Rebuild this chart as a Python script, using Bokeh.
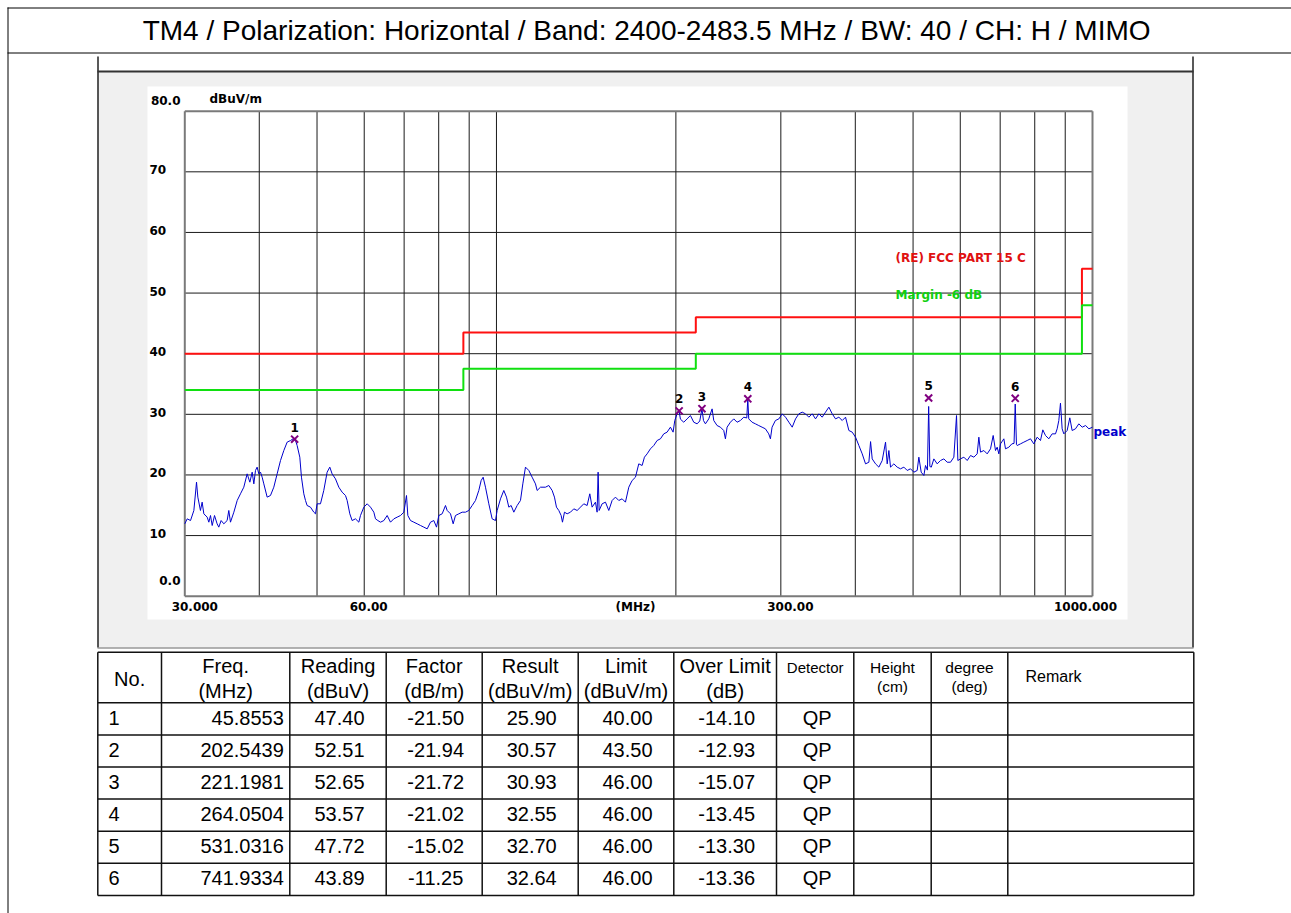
import math
from bokeh.plotting import figure
from bokeh.models import Range1d, LinearScale, LogScale
from bokeh.core.properties import value
from bokeh.embed import file_html
from bokeh.resources import INLINE

# ---------------- data ----------------
TITLE = "TM4 / Polarization: Horizontal / Band: 2400-2483.5 MHz  / BW: 40 / CH: H / MIMO"

trace_freq = [
    30.00, 30.28, 30.67, 31.07, 31.39, 31.55, 31.87, 32.08, 32.29, 32.71, 32.92, 33.13, 33.35, 33.65,
    33.99, 34.21, 34.52, 34.88, 35.33, 35.56, 35.79, 36.26, 36.73, 37.20, 37.68, 38.17, 38.57, 38.92,
    39.17, 39.42, 39.67, 39.93, 40.19, 40.45, 40.71, 41.24, 41.77, 42.31, 42.86, 43.42, 43.98, 44.55,
    45.13, 45.59, 46.01, 46.30, 46.78, 47.08, 47.51, 47.82, 48.12, 48.75, 49.38, 49.70, 50.02, 50.67,
    51.32, 51.99, 52.53, 53.00, 53.69, 54.39, 55.09, 55.81, 56.17, 56.75, 57.26, 58.00, 58.76, 59.14,
    59.91, 60.69, 61.47, 62.27, 62.67, 63.24, 63.90, 64.73, 65.56, 66.41, 67.27, 68.14, 69.03, 69.92,
    70.64, 71.01, 71.74, 72.67, 73.62, 74.57, 75.54, 76.52, 77.51, 78.51, 79.33, 80.04, 81.08, 82.13,
    82.66, 83.73, 84.60, 85.36, 86.47, 87.59, 88.72, 89.87, 91.04, 92.22, 93.41, 94.26, 94.99, 95.85,
    97.09, 98.35, 99.62, 100.27, 101.57, 102.88, 103.95, 104.89, 105.84, 106.94, 108.32, 109.72,
    110.72, 111.86, 113.31, 114.78, 116.27, 117.02, 118.54,
    120.85, 122.41, 124.00, 125.12, 126.09, 127.23, 128.39, 129.05, 130.05, 131.39, 133.10, 134.82,
    136.57, 138.34, 140.13, 141.95, 143.42, 144.71, 146.59, 147.53, 148.10, 148.68, 150.41, 152.36,
    154.33, 156.33, 158.36, 160.41, 162.49, 164.59, 166.73, 168.89, 171.08, 173.29, 175.54, 177.13,
    178.96, 181.28, 183.63, 186.01, 188.42, 190.86, 193.33, 195.83, 197.86, 199.14, 200.94, 202.54,
    203.54, 206.18, 208.85, 211.56, 214.30, 217.08, 219.32, 221.20, 222.50, 224.18, 227.09, 230.03,
    231.51, 234.51, 237.55, 240.63, 242.18, 243.74, 246.90, 250.10, 253.34, 256.62, 259.95, 263.00,
    264.05, 265.01, 268.45, 271.93, 275.45, 279.02, 282.64, 286.30, 288.15, 290.01, 293.77, 297.73,
    301.59, 305.49, 309.45, 313.46, 317.53, 321.64, 325.81, 330.03, 334.31, 338.64, 343.03, 347.48,
    351.98, 356.55, 361.17, 365.85, 370.59, 375.39, 380.26, 385.19, 390.18, 395.23, 400.36, 405.54,
    410.80, 416.12, 421.52, 424.30, 426.98, 432.51, 438.12, 443.80, 449.55, 452.44, 455.36, 458.30,
    464.24, 470.26, 476.35, 482.52, 488.78, 495.11, 501.53, 508.03, 511.30, 515.93, 521.27, 524.63,
    528.50, 531.03, 533.50, 536.50, 541.78, 548.80, 555.91, 563.12, 570.42, 577.81,
    585.32, 591.39, 594.45, 600.61, 608.41, 616.29, 624.27, 632.35, 640.54, 644.66, 648.83, 657.23,
    665.75, 674.37, 681.35, 687.50, 691.94, 696.42, 700.92, 710.00, 714.60, 723.85, 732.29, 738.50,
    741.93, 745.50, 747.52, 757.20, 767.01, 776.95, 787.01, 797.21, 807.54, 818.00, 825.39, 833.93,
    844.73, 855.67, 866.76, 872.35, 877.99, 883.65, 889.36, 895.10, 906.70, 916.07, 924.37, 936.35,
    948.50, 961.10, 973.58, 986.20, 1000.00,
]
trace_level = [
    11.94, 12.76, 12.48, 14.14, 18.81, 16.34, 14.14, 15.51, 13.59, 13.04, 12.21, 13.31, 11.66, 13.31,
    11.94, 11.39, 12.48, 11.94, 12.48, 14.14, 12.21, 13.86, 15.79, 16.89, 17.98, 20.18, 18.81, 20.46,
    18.53, 20.74, 21.29, 20.18, 20.46, 19.63, 18.53, 16.34, 16.61, 17.98, 20.18, 22.38, 24.03, 25.41,
    25.68, 25.96, 25.68, 24.86, 22.93, 19.63, 16.89, 15.79, 14.96, 14.69, 13.86, 13.59, 15.24, 15.24,
    17.44, 20.46, 21.29, 20.18, 19.36, 17.98, 17.16, 16.61, 15.79, 13.59, 12.48, 12.76, 12.21, 13.31,
    14.69, 15.24, 14.69, 13.86, 12.76, 12.48, 12.21, 12.48, 13.31, 12.21, 12.76, 13.04, 13.31, 13.86,
    16.61, 13.31, 12.48, 12.21, 11.94, 11.66, 11.39, 11.11, 12.21, 12.48, 11.39, 13.31, 13.59, 14.96,
    14.14, 13.59, 11.94, 13.31, 13.59, 13.86, 13.86, 14.14, 14.96, 15.79, 17.44, 19.08, 19.63, 17.98,
    15.24, 12.76, 12.48, 14.14, 16.06, 17.44, 16.34, 14.69, 14.96, 13.86, 14.96, 15.79,
    18.53, 21.29, 20.74, 19.63, 18.53, 17.44, 17.98,
    17.98, 18.26, 17.44, 16.34, 14.69, 14.14, 13.31, 12.21, 13.86, 13.59, 13.86, 14.41,
    14.14, 14.69, 15.24, 14.96, 16.89, 14.69, 15.51, 13.86, 20.46, 14.14, 15.24, 15.51,
    14.14, 15.79, 16.34, 15.79, 16.06, 15.51, 17.98, 19.08, 19.63, 21.83, 21.56, 22.93,
    23.48, 24.31, 24.86, 25.68, 25.96, 26.78, 27.06, 27.88, 27.06, 28.98, 30.08, 30.50,
    29.20, 28.70, 29.25, 29.80, 28.70, 28.43, 28.90, 30.90, 28.98, 28.43, 29.25, 30.90,
    28.98, 28.15, 27.88, 27.33, 25.96, 27.88, 28.70, 29.25, 28.70, 28.98, 29.53, 29.40,
    32.50, 29.25, 28.70, 28.43, 28.15, 27.88, 27.61, 26.78, 25.96, 27.88, 28.98, 29.25,
    30.08, 29.53, 28.70, 27.88, 29.25, 30.08, 30.36, 30.08, 29.53, 30.08, 29.25, 30.08,
    29.53, 30.36, 31.18, 30.08, 29.25, 29.53, 28.98, 29.53, 27.33, 27.06, 26.23, 24.86,
    23.48, 21.83, 22.10, 25.50, 22.65, 21.83, 21.29, 22.38, 25.41, 21.83, 24.03, 21.29,
    21.83, 21.29, 21.01, 21.29, 20.74, 21.01, 20.46, 20.74, 22.93, 20.46, 19.91, 21.56,
    20.80, 31.30, 21.40, 21.29, 22.65, 21.83, 22.38, 22.65, 22.10, 22.10,
    22.93, 29.80, 22.38, 22.66, 22.93, 22.38, 23.21, 22.93, 23.48, 26.23, 23.76, 24.03,
    23.48, 24.31, 26.51, 24.03, 24.58, 23.48, 25.13, 25.96, 24.31, 24.58, 25.13, 25.20,
    31.70, 25.00, 24.86, 25.13, 25.41, 25.68, 25.96, 25.13, 26.23, 25.68, 27.44, 26.51,
    25.96, 26.78, 26.78, 27.61, 28.98, 31.84, 27.61, 26.78, 27.33, 29.42, 27.33, 27.61,
    28.43, 27.88, 28.15, 27.61, 27.88,
]

limit_freq = [30, 88, 88, 216, 216, 960, 960, 1000]
limit_level = [40, 40, 43.5, 43.5, 46, 46, 54, 54]
margin_level = [34, 34, 37.5, 37.5, 40, 40, 48, 48]
limit_name = "(RE) FCC PART 15  C"
margin_name = "Margin -6 dB"
trace_name = "peak"

x_grid_freq = [40, 50, 60, 70, 80, 90, 100, 200, 300, 400, 500, 600, 700, 800, 900]
y_grid_level = [10, 20, 30, 40, 50, 60, 70]
x_tick_freq = [30, 60, 300, 1000]
x_tick_text = ["30.000", "60.00", "300.00", "1000.000"]
x_unit = "(MHz)"
y_tick_level = [10, 20, 30, 40, 50, 60, 70]
y_tick_text = ["10", "20", "30", "40", "50", "60", "70"]
y_end_level = [0, 80]
y_end_text = ["0.0", "80.0"]
y_unit = "dBuV/m"

meas_no = [1, 2, 3, 4, 5, 6]
meas_freq = [45.8553, 202.5439, 221.1981, 264.0504, 531.0316, 741.9334]
meas_reading = [47.40, 52.51, 52.65, 53.57, 47.72, 43.89]
meas_factor = [-21.50, -21.94, -21.72, -21.02, -15.02, -11.25]
meas_result = [25.90, 30.57, 30.93, 32.55, 32.70, 32.64]
meas_limit = [40.00, 43.50, 46.00, 46.00, 46.00, 46.00]
meas_over = [-14.10, -12.93, -15.07, -13.45, -13.30, -13.36]
meas_detector = ["QP", "QP", "QP", "QP", "QP", "QP"]

head_line1 = ["Freq.", "Reading", "Factor", "Result", "Limit", "Over Limit"]
head_line2 = ["(MHz)", "(dBuV)", "(dB/m)", "(dBuV/m)", "(dBuV/m)", "(dB)"]
head_small1 = ["Height", "degree"]
head_small2 = ["(cm)", "(deg)"]

# ---------------- layout (page pixels; the page has no margin) ----------------
PAGE = 0
W, H = 1291, 913
AX_L, AX_R = 184.3, 1092.0   # pixel x of 30 MHz and 1000 MHz
AX_B, AX_T = 595.7, 110.7    # pixel y of 0 dB and 80 dB
F_MIN, F_MAX = 30.0, 1000.0
DB_MIN, DB_MAX = 0.0, 80.0

dec_px = (AX_R - AX_L) / math.log10(F_MAX / F_MIN)
f_start = 10 ** (math.log10(F_MIN) - (AX_L - PAGE) / dec_px)
f_end = 10 ** (math.log10(F_MIN) + (PAGE + W - AX_L) / dec_px)
k_db = (DB_MAX - DB_MIN) / (AX_B - AX_T)
db_top = DB_MIN + (AX_B - PAGE) * k_db
db_bottom = DB_MIN - (PAGE + H - AX_B) * k_db

p = figure(width=W, height=H, title=None,
           x_range=Range1d(PAGE, PAGE + W), y_range=Range1d(PAGE + H, PAGE),
           x_axis_location=None, y_axis_location=None,
           output_backend="svg", toolbar_location=None, min_border=0,
           outline_line_color=None, background_fill_color="white",
           border_fill_color="white")
p.grid.visible = False
p.extra_x_ranges = {"freq": Range1d(f_start, f_end)}
p.extra_x_scales = {"freq": LogScale()}
p.extra_y_ranges = {"db": Range1d(db_bottom, db_top)}
p.extra_y_scales = {"db": LinearScale()}

SANS = value("Liberation Sans")
BOLD = value("DejaVu Sans")
FR = dict(x_range_name="freq", y_range_name="db")

# outer frame + title
p.segment(x0=[7, 7.5, 7], y0=[7.5, 7, 52.5], x1=[1291, 7.5, 1291], y1=[7.5, 913, 52.5],
          line_color="black", line_width=1)
p.text(x=[650], y=[30], text=[TITLE], text_font=SANS, text_font_size="28px",
       text_align="center", text_baseline="middle", text_color="black")

# chart panel
p.quad(left=[97], right=[1193], top=[71], bottom=[647], fill_color="#f0f0f0", line_color=None)
p.quad(left=[147], right=[1127], top=[86], bottom=[619], fill_color="white", line_color=None)
p.segment(x0=[97.5, 1192.5], y0=[56, 56], x1=[97.5, 1192.5], y1=[647, 647],
          line_color="#222222", line_width=1.5)
p.segment(x0=[97], y0=[71], x1=[1193], y1=[71], line_color="#333333", line_width=2)
p.segment(x0=[97], y0=[647.5], x1=[1193], y1=[647.5], line_color="#666666", line_width=1)

# grid
n = len(x_grid_freq)
p.segment(x0=x_grid_freq, y0=[DB_MIN] * n, x1=x_grid_freq, y1=[DB_MAX] * n,
          line_color="#1a1a1a", line_width=1, **FR)
m = len(y_grid_level)
p.segment(x0=[F_MIN] * m, y0=y_grid_level, x1=[F_MAX] * m, y1=y_grid_level,
          line_color="#1a1a1a", line_width=1, **FR)
# plot frame
p.segment(x0=[F_MIN, F_MIN, F_MAX, F_MIN], y0=[DB_MIN, DB_MIN, DB_MIN, DB_MAX],
          x1=[F_MIN, F_MAX, F_MAX, F_MAX], y1=[DB_MAX, DB_MIN, DB_MAX, DB_MAX],
          line_color="#7a7a7a", line_width=2, **FR)

# limit lines
p.line(limit_freq, limit_level, line_color="#ff1010", line_width=2, **FR)
p.line(limit_freq, margin_level, line_color="#10e010", line_width=2, **FR)

# trace
p.line(trace_freq, trace_level, line_color="#0000cc", line_width=1, **FR)

# markers
p.scatter(meas_freq, meas_result, marker="x", size=10, line_color="#800080",
          line_width=2, **FR)
p.text(x=meas_freq, y=meas_result, text=[str(v) for v in meas_no], y_offset=-12,
       text_font=BOLD, text_font_style="bold", text_font_size="12px",
       text_align="center", text_baseline="middle", text_color="black", **FR)

# axis labels
p.text(x=[149] * len(y_tick_level), y=y_tick_level, text=y_tick_text, y_offset=-2,
       text_font=BOLD, text_font_style="bold", text_font_size="12px",
       text_align="left", text_baseline="middle", text_color="black", y_range_name="db")
p.text(x=[180] * 2, y=y_end_level, text=y_end_text, y_offset=[-16, -10.5],
       text_font=BOLD, text_font_style="bold", text_font_size="12px",
       text_align="right", text_baseline="middle", text_color="black", y_range_name="db")
p.text(x=x_tick_freq, y=[DB_MIN] * len(x_tick_freq), text=x_tick_text,
       x_offset=[10, 4.5, 9.5, -7], y_offset=10,
       text_font=BOLD, text_font_style="bold", text_font_size="12px",
       text_align="center", text_baseline="middle", text_color="black", **FR)
p.text(x=[635], y=[606], text=[x_unit], text_font=BOLD, text_font_style="bold",
       text_font_size="12px", text_align="center", text_baseline="middle", text_color="black")
p.text(x=[209], y=[98], text=[y_unit], text_font=BOLD, text_font_style="bold",
       text_font_size="12px", text_align="left", text_baseline="middle", text_color="black")
p.text(x=[895], y=[257], text=[limit_name], text_font=BOLD, text_font_style="bold",
       text_font_size="12px", text_align="left", text_baseline="middle", text_color="#e01010")
p.text(x=[895], y=[294], text=[margin_name], text_font=BOLD, text_font_style="bold",
       text_font_size="12px", text_align="left", text_baseline="middle", text_color="#10d010")
p.text(x=[1093], y=[431], text=[trace_name], text_font=BOLD, text_font_style="bold",
       text_font_size="12px", text_align="left", text_baseline="middle", text_color="#0000cc")

# ---------------- table ----------------
col_edges = [97.3, 161, 289.3, 385.7, 481.7, 577.7, 673.3, 776, 853.3, 930.7, 1007.3, 1193.3]
row_h = 32.1
head_top, head_bot = 651.7, 702.3
row_edges = [head_top, head_bot] + [head_bot + row_h * (k + 1) for k in range(len(meas_no))]
tb_top, tb_bot = row_edges[0], row_edges[-1]
p.segment(x0=[col_edges[0]] * len(row_edges), y0=row_edges,
          x1=[col_edges[-1]] * len(row_edges), y1=row_edges, line_color="#111111", line_width=1.5)
p.segment(x0=col_edges, y0=[tb_top] * len(col_edges), x1=col_edges, y1=[tb_bot] * len(col_edges),
          line_color="#111111", line_width=1.5)

centers = [(col_edges[i] + col_edges[i + 1]) / 2 for i in range(len(col_edges) - 1)]
TXT = dict(text_font=SANS, text_color="black", text_baseline="middle")

# headers
p.text(x=[centers[0]], y=[678], text=["No."], text_font_size="20px", text_align="center", **TXT)
p.text(x=centers[1:7], y=[665] * 6, text=head_line1, text_font_size="20px", text_align="center", **TXT)
p.text(x=centers[1:7], y=[690] * 6, text=head_line2, text_font_size="20px", text_align="center", **TXT)
p.text(x=[centers[7]], y=[667], text=["Detector"], text_font_size="15px", text_align="center", **TXT)
p.text(x=centers[8:10], y=[667, 667], text=head_small1, text_font_size="15.5px", text_align="center", **TXT)
p.text(x=centers[8:10], y=[686, 686], text=head_small2, text_font_size="15.5px", text_align="center", **TXT)
p.text(x=[1025], y=[676], text=["Remark"], text_font_size="16px", text_align="left", **TXT)

# rows
row_y = [(row_edges[i + 1] + row_edges[i + 2]) / 2 - 1 for i in range(len(meas_no))]
p.text(x=[108] * 6, y=row_y, text=[str(v) for v in meas_no], text_font_size="20px",
       text_align="left", **TXT)
p.text(x=[col_edges[2] - 6] * 6, y=row_y, text=[f"{v:.4f}" for v in meas_freq],
       text_font_size="20px", text_align="right", **TXT)
for ci, vals in [(2, meas_reading), (3, meas_factor), (4, meas_result), (5, meas_limit), (6, meas_over)]:
    p.text(x=[centers[ci] + 1.5] * 6, y=row_y, text=[f"{v:.2f}" for v in vals],
           text_font_size="20px", text_align="center", **TXT)
p.text(x=[centers[7] + 2] * 6, y=row_y, text=meas_detector, text_font_size="20px",
       text_align="center", **TXT)

open("out.html", "w").write(file_html(p, INLINE))
